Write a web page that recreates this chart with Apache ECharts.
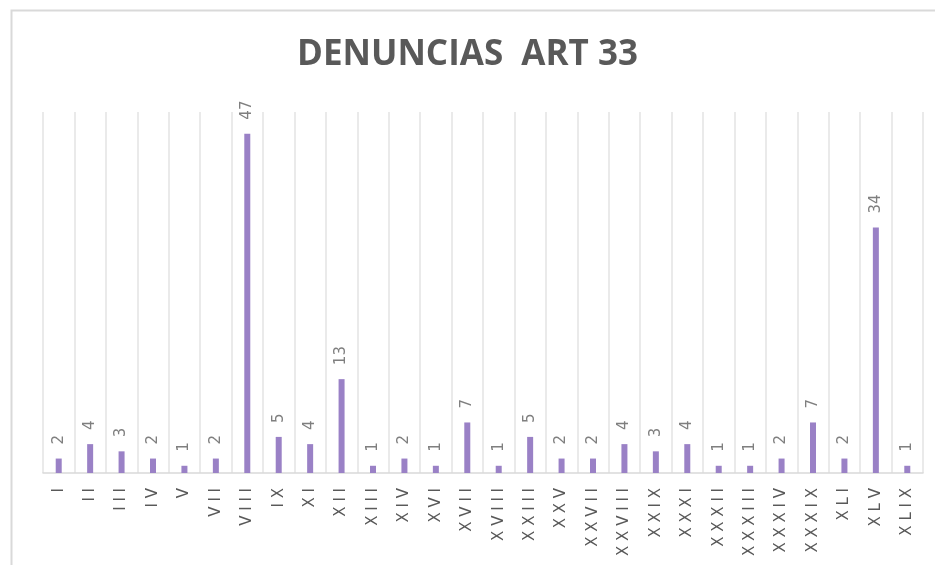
<!DOCTYPE html>
<html>
<head>
<meta charset="utf-8">
<script src="https://cdn.jsdelivr.net/npm/echarts@6/dist/echarts.min.js"></script>
<style>
  html, body { margin: 0; padding: 0; background: #fff; }
  #main { width: 935px; height: 565px; }
</style>
</head>
<body>
<div id="main"></div>
<script>
var categorias = ['I', 'II', 'III', 'IV', 'V', 'VII', 'VIII', 'IX', 'XI', 'XII', 'XIII', 'XIV', 'XVI', 'XVII',
    'XVIII', 'XXIII', 'XXV', 'XXVII', 'XXVIII', 'XXIX', 'XXXI', 'XXXII', 'XXXIII', 'XXXIV', 'XXXIX', 'XLI', 'XLV', 'XLIX'];
var denuncias = [2, 4, 3, 2, 1, 2, 47, 5, 4, 13, 1, 2, 1, 7, 1, 5, 2, 2, 4, 3, 4, 1, 1, 2, 7, 2, 34, 1];

var myChart = echarts.init(document.getElementById('main'));
var option = {
    backgroundColor: '#fff',
    title: {
        text: 'DENUNCIAS  ART 33',
        left: 'center',
        top: 33,
        textStyle: {
            fontFamily: 'Open Sans',
            fontSize: 35,
            fontWeight: 'bold',
            color: '#595959'
        }
    },
    graphic: [{
        type: 'rect',
        left: 9,
        top: 8,
        shape: { width: 950, height: 580 },
        style: { fill: 'none', stroke: '#d9d9d9', lineWidth: 2 },
        silent: true
    }],
    grid: {
        left: 43,
        right: 12,
        top: 112,
        bottom: 92
    },
    xAxis: {
        type: 'category',
        data: categorias,
        axisTick: { show: false },
        axisLine: { lineStyle: { color: '#d9d9d9', width: 1.5 } },
        splitLine: { show: true, interval: 0, lineStyle: { color: '#e3e3e3', width: 1.5 } },
        axisLabel: {
            interval: 0,
            rotate: 90,
            margin: 15,
            fontFamily: 'DejaVu Sans',
            fontSize: 15,
            color: '#595959',
            formatter: function (v) { return v.split('').join(' '); }
        }
    },
    yAxis: {
        type: 'value',
        min: 0,
        max: 50,
        show: false,
        splitLine: { show: false }
    },
    series: [{
        name: 'Denuncias',
        type: 'bar',
        data: denuncias,
        barWidth: 6,
        itemStyle: { color: '#9a81c6' },
        label: {
            show: true,
            position: 'top',
            rotate: 90,
            align: 'left',
            verticalAlign: 'middle',
            distance: 14,
            fontFamily: 'DejaVu Sans',
            fontSize: 15,
            color: '#7f7f7f'
        }
    }]
};
myChart.setOption(option);
</script>
</body>
</html>
